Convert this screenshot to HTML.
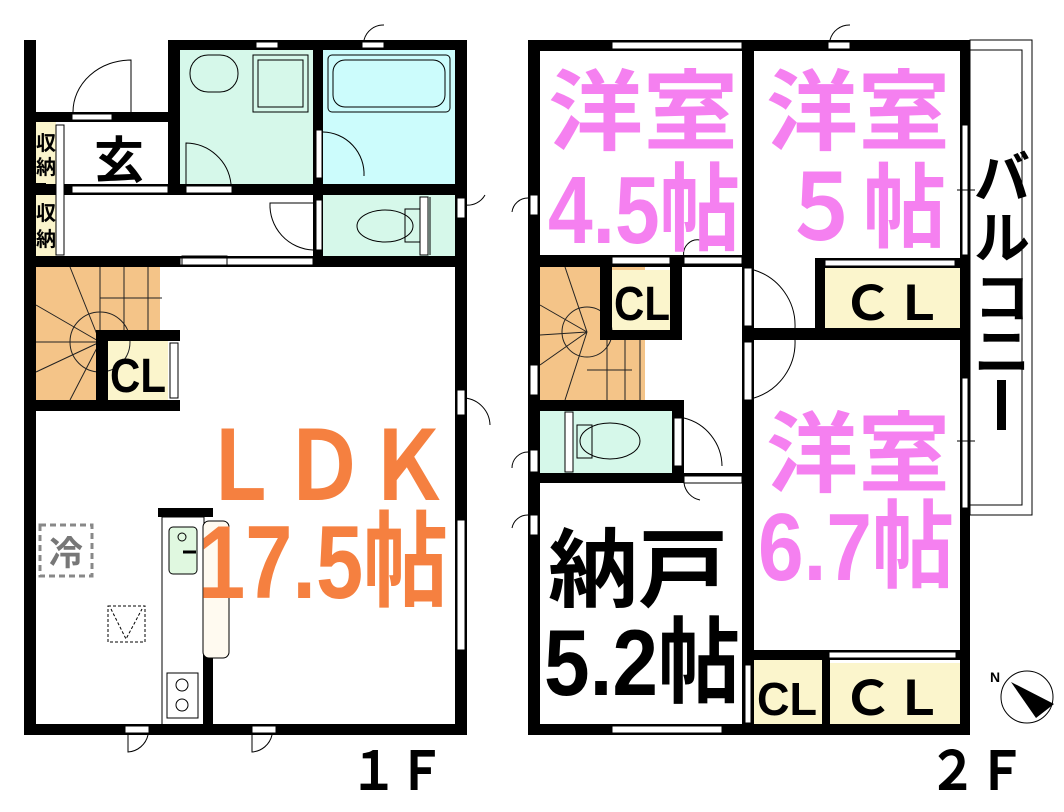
<!DOCTYPE html>
<html><head><meta charset="utf-8"><style>
html,body{margin:0;padding:0;background:#fff;}
svg{display:block;}
text{font-family:"Liberation Sans","Noto Sans CJK JP",sans-serif;font-weight:bold;}
</style></head><body>
<svg width="1064" height="812" viewBox="0 0 1064 812" xmlns="http://www.w3.org/2000/svg">
<rect x="180" y="50" width="133" height="134" fill="#d6f8ea"/>
<rect x="323" y="50" width="132" height="134" fill="#ccfcfc"/>
<rect x="323" y="195" width="132" height="62" fill="#d6f8ea"/>
<rect x="36" y="122" width="20" height="135" fill="#fbf5cc"/>
<rect x="36" y="267" width="124" height="133" fill="#f4c488"/>
<rect x="108" y="340" width="60" height="60" fill="#fbf5cc"/>
<g stroke="#222" stroke-width="1" fill="none">
<line x1="100" y1="267" x2="100" y2="330"/><line x1="124" y1="267" x2="124" y2="330"/><line x1="148" y1="267" x2="148" y2="330"/>
<line x1="100" y1="298" x2="162" y2="298"/>
<circle cx="100" cy="342" r="30"/>
<line x1="100" y1="342" x2="36" y2="305"/><line x1="100" y1="342" x2="70" y2="267"/><line x1="100" y1="342" x2="36" y2="342"/>
<line x1="100" y1="342" x2="36" y2="372"/><line x1="100" y1="342" x2="70" y2="400"/>
</g>
<g fill="#000">
<rect x="24" y="40" width="12" height="695"/>
<rect x="168" y="40" width="299" height="10"/>
<rect x="455" y="40" width="12" height="695"/>
<rect x="24" y="724" width="443" height="11"/>
<rect x="36" y="112" width="140" height="10"/>
<rect x="168" y="40" width="12" height="155"/>
<rect x="36" y="184" width="429" height="11"/>
<rect x="313" y="40" width="10" height="227"/>
<rect x="24" y="256" width="443" height="11"/>
<rect x="24" y="400" width="156" height="11"/>
<rect x="96" y="330" width="84" height="11"/>
<rect x="96" y="330" width="12" height="80"/>
<rect x="36" y="183" width="10" height="8"/>
<rect x="158" y="508" width="55" height="9"/>
<rect x="203" y="655" width="10" height="70"/>
</g>
<g fill="#fff" stroke="#000" stroke-width="1">
<rect x="72" y="114" width="40" height="6"/>
<rect x="56" y="125" width="8" height="130"/>
<rect x="72" y="186" width="96" height="7"/>
<rect x="186" y="186" width="46" height="7"/>
<rect x="316" y="130" width="6" height="48"/>
<rect x="316" y="200" width="6" height="50"/>
<rect x="420" y="197" width="8" height="58"/>
<rect x="457" y="198" width="8" height="20"/>
<rect x="256" y="42" width="22" height="6"/>
<rect x="362" y="42" width="22" height="6"/>
<rect x="170" y="343" width="8" height="55"/>
<rect x="457" y="390" width="8" height="25"/>
<rect x="457" y="520" width="8" height="130"/>
<rect x="125" y="726" width="24" height="7"/>
<rect x="252" y="726" width="24" height="7"/>
<rect x="180" y="258" width="133" height="7"/>
</g>
<g stroke="#000" stroke-width="1" fill="none">
<path d="M131 112 L131 60 A 58 52 0 0 0 73 112"/>
<path d="M186 184 L186 143 A 46 46 0 0 1 231 184"/>
<path d="M323 132 A 42 42 0 0 1 364 176"/>
<path d="M313 203 L270 203 A 45 45 0 0 0 313 250"/>
<path d="M465 205 A 20 20 0 0 0 485 195"/>
<path d="M465 398 A 28 28 0 0 1 490 425"/>
<path d="M128 735 L128 752 A 22 22 0 0 0 148 735"/>
<path d="M252 735 L252 752 A 22 22 0 0 0 272 735"/>
<path d="M364 40 A 20 20 0 0 1 384 25"/>
<rect x="190" y="55" width="48" height="37" rx="18"/>
<rect x="253" y="55" width="55" height="57"/><rect x="258" y="60" width="45" height="47"/>
<rect x="328" y="55" width="122" height="57" rx="4"/><rect x="333" y="60" width="112" height="47" rx="12"/>
<ellipse cx="385" cy="226" rx="28" ry="16"/><rect x="405" y="209" width="15" height="33"/>
<line x1="430" y1="197" x2="430" y2="255"/>
<rect x="182" y="256" width="45" height="10"/>
<rect x="162" y="517" width="42" height="208"/>
<rect x="203" y="521" width="26" height="137" rx="6" fill="#fffaf0"/>
<rect x="169" y="527" width="28" height="47" rx="4" fill="#e0f8e0"/>
<circle cx="182" cy="537" r="4"/>
<rect x="167" y="673" width="31" height="45"/>
<circle cx="182" cy="685" r="6"/><circle cx="182" cy="705" r="6"/>
<rect x="108" y="606" width="37" height="36" stroke-dasharray="3,2"/>
<path d="M111 609 L126 639 L142 609" stroke-dasharray="3,2"/>
</g>
<line x1="183" y1="552" x2="196" y2="552" stroke="#000" stroke-width="3"/>
<rect x="40" y="525" width="52" height="51" fill="none" stroke="#888" stroke-width="3" stroke-dasharray="6,4"/>
<text x="66" y="565" font-size="34" fill="#777" text-anchor="middle">冷</text>
<text x="94" y="178" font-size="50">玄</text>
<text x="36" y="150" font-size="20" textLength="20" lengthAdjust="spacingAndGlyphs">収</text>
<text x="36" y="174" font-size="20" textLength="20" lengthAdjust="spacingAndGlyphs">納</text>
<text x="36" y="220" font-size="20" textLength="20" lengthAdjust="spacingAndGlyphs">収</text>
<text x="36" y="246" font-size="20" textLength="20" lengthAdjust="spacingAndGlyphs">納</text>
<text x="110" y="392" font-size="48" textLength="56" lengthAdjust="spacingAndGlyphs">CL</text>
<text x="198" y="500" font-size="96" fill="#f58040" textLength="252" lengthAdjust="spacingAndGlyphs">ＬＤＫ</text>
<text x="198" y="598" font-size="104" fill="#f58040" textLength="250" lengthAdjust="spacingAndGlyphs">17.5帖</text>
<text x="350" y="790" font-size="54" textLength="95" lengthAdjust="spacingAndGlyphs">１Ｆ</text>

<rect x="540" y="267" width="105" height="133" fill="#f4c488"/>
<rect x="612" y="270" width="58" height="60" fill="#fbf5cc"/>
<rect x="540" y="410" width="132" height="63" fill="#d6f8ea"/>
<rect x="825" y="268" width="135" height="60" fill="#fbf5cc"/>
<rect x="754" y="660" width="68" height="65" fill="#fbf5cc"/>
<rect x="830" y="663" width="130" height="62" fill="#fbf5cc"/>
<g stroke="#222" stroke-width="1" fill="none">
<line x1="607" y1="340" x2="607" y2="400"/><line x1="625" y1="340" x2="625" y2="400"/><line x1="640" y1="340" x2="640" y2="400"/>
<line x1="587" y1="370" x2="632" y2="370"/>
<circle cx="587" cy="332" r="25"/>
<line x1="587" y1="332" x2="540" y2="305"/><line x1="587" y1="332" x2="565" y2="267"/><line x1="587" y1="332" x2="540" y2="335"/>
<line x1="587" y1="332" x2="540" y2="365"/><line x1="587" y1="332" x2="565" y2="400"/>
</g>
<g fill="#000">
<rect x="528" y="40" width="12" height="695"/>
<rect x="528" y="40" width="442" height="11"/>
<rect x="960" y="40" width="10" height="695"/>
<rect x="528" y="724" width="442" height="11"/>
<rect x="742" y="40" width="12" height="695"/>
<rect x="528" y="255" width="226" height="12"/>
<rect x="742" y="328" width="228" height="12"/>
<rect x="815" y="258" width="10" height="82"/>
<rect x="815" y="258" width="155" height="10"/>
<rect x="600" y="258" width="12" height="80"/>
<rect x="670" y="258" width="12" height="80"/>
<rect x="600" y="330" width="82" height="10"/>
<rect x="528" y="400" width="156" height="11"/>
<rect x="672" y="400" width="12" height="83"/>
<rect x="528" y="473" width="226" height="10"/>
<rect x="742" y="650" width="228" height="10"/>
<rect x="822" y="650" width="8" height="85"/>
</g>
<g fill="#fff" stroke="#000" stroke-width="1">
<rect x="612" y="42" width="130" height="7"/>
<rect x="828" y="42" width="22" height="7"/>
<rect x="612" y="257" width="58" height="7"/>
<rect x="684" y="257" width="58" height="7"/>
<rect x="825" y="260" width="130" height="6"/>
<rect x="744" y="268" width="8" height="58"/>
<rect x="744" y="342" width="8" height="58"/>
<rect x="530" y="365" width="8" height="30"/>
<rect x="530" y="450" width="8" height="22"/>
<rect x="530" y="515" width="8" height="20"/>
<rect x="530" y="195" width="8" height="20"/>
<rect x="565" y="412" width="8" height="60"/>
<rect x="674" y="418" width="8" height="48"/>
<rect x="684" y="476" width="58" height="7"/>
<rect x="962" y="125" width="6" height="130"/>
<rect x="962" y="378" width="6" height="130"/>
<rect x="829" y="652" width="127" height="6"/>
<rect x="745" y="665" width="6" height="58"/>
<rect x="612" y="726" width="110" height="7"/>
</g>
<g stroke="#000" stroke-width="1" fill="none">
<path d="M754 270 A 58 58 0 0 1 795 328"/>
<path d="M754 398 A 58 58 0 0 0 795 340"/>
<path d="M684 418 A 50 50 0 0 1 722 466"/>
<path d="M684 483 A 20 20 0 0 0 700 500"/>
<path d="M528 198 A 16 16 0 0 0 512 212"/>
<path d="M528 515 A 16 16 0 0 0 512 528"/>
<path d="M528 452 A 16 16 0 0 0 512 468"/>
<path d="M830 40 A 20 20 0 0 1 850 25"/>
<path d="M684 257 A 14 14 0 0 1 700 240"/>
<ellipse cx="610" cy="441" rx="30" ry="18"/><rect x="577" y="425" width="15" height="33"/>
<rect x="970" y="40" width="62" height="475"/>
<rect x="970" y="50" width="52" height="455"/>
<line x1="957" y1="190" x2="975" y2="190"/>
<line x1="957" y1="441" x2="975" y2="441"/>
</g>
<text x="548" y="143" font-size="88" fill="#f580f0" textLength="190" lengthAdjust="spacingAndGlyphs">洋室</text>
<text x="548" y="243" font-size="96" fill="#f580f0" textLength="192" lengthAdjust="spacingAndGlyphs">4.5帖</text>
<text x="766" y="143" font-size="88" fill="#f580f0" textLength="184" lengthAdjust="spacingAndGlyphs">洋室</text>
<text x="780" y="240" font-size="92" fill="#f580f0" textLength="166" lengthAdjust="spacingAndGlyphs">５帖</text>
<text x="766" y="485" font-size="88" fill="#f580f0" textLength="184" lengthAdjust="spacingAndGlyphs">洋室</text>
<text x="758" y="580" font-size="96" fill="#f580f0" textLength="196" lengthAdjust="spacingAndGlyphs">6.7帖</text>
<text x="548" y="600" font-size="86" textLength="180" lengthAdjust="spacingAndGlyphs">納戸</text>
<text x="544" y="695" font-size="94" textLength="196" lengthAdjust="spacingAndGlyphs">5.2帖</text>
<text x="614" y="320" font-size="48" textLength="56" lengthAdjust="spacingAndGlyphs">CL</text>
<text x="842" y="320" font-size="48" textLength="102" lengthAdjust="spacingAndGlyphs">ＣＬ</text>
<text x="757" y="715" font-size="46" textLength="60" lengthAdjust="spacingAndGlyphs">CL</text>
<text x="842" y="715" font-size="48" textLength="102" lengthAdjust="spacingAndGlyphs">ＣＬ</text>
<text x="1002" y="198" font-size="56" text-anchor="middle">バ</text>
<text x="1002" y="258" font-size="56" text-anchor="middle">ル</text>
<text x="1002" y="318" font-size="56" text-anchor="middle">コ</text>
<text x="1002" y="372" font-size="56" text-anchor="middle">ニ</text>
<rect x="997" y="380" width="9" height="50" fill="#000"/>
<text x="928" y="790" font-size="54" textLength="98" lengthAdjust="spacingAndGlyphs">２Ｆ</text>
<circle cx="1027" cy="697" r="26" fill="#fff" stroke="#000" stroke-width="1"/>
<path d="M1011 682 L1054 704 L1036 718 Z" fill="#000"/>
<text x="990" y="682" font-size="14" font-weight="normal">N</text>
</svg>
</body></html>
